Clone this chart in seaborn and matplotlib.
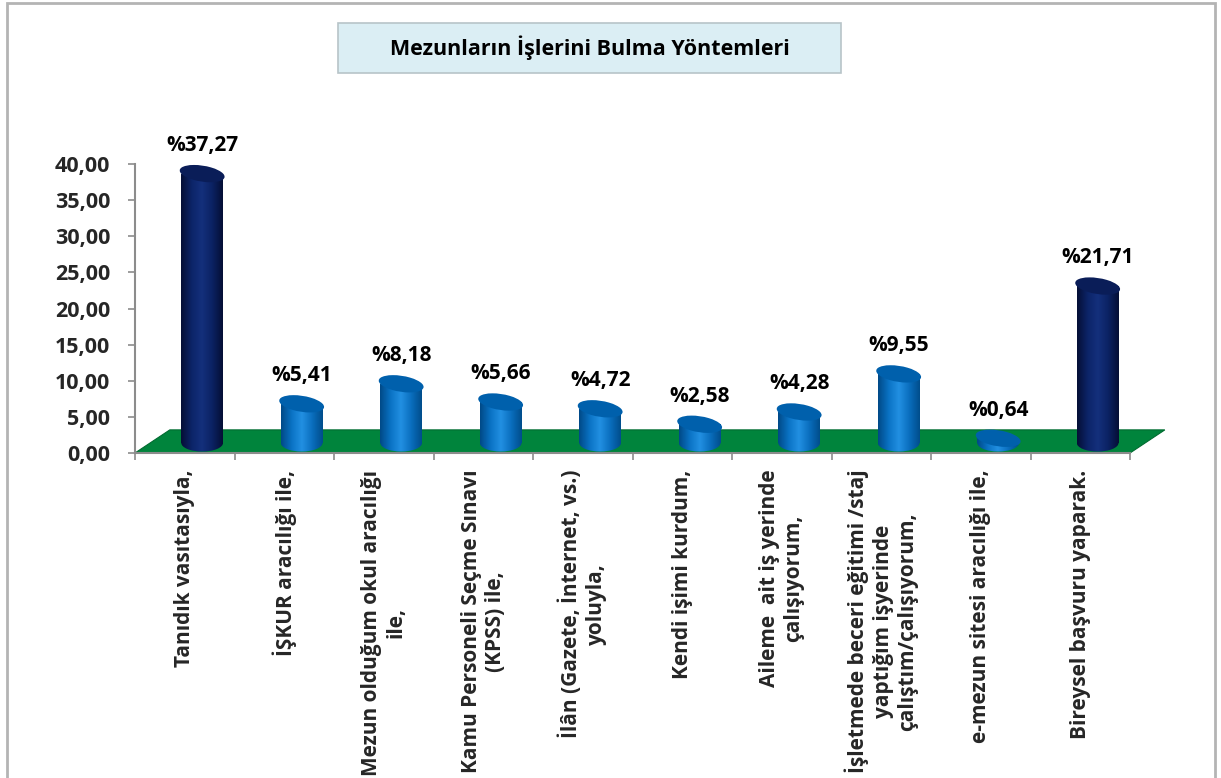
import matplotlib
matplotlib.use("Agg")
import matplotlib.pyplot as plt
import seaborn as sns
import pandas as pd
import numpy as np
from matplotlib.patches import Polygon, Ellipse, Rectangle
from matplotlib.colors import LinearSegmentedColormap

# data
categories = [
    "Tanıdık vasıtasıyla,",
    "İŞKUR aracılığı ile,",
    "Mezun olduğum okul aracılığı\nile,",
    "Kamu Personeli Seçme Sınavı\n(KPSS) ile,",
    "İlân (Gazete, İnternet, vs.)\nyoluyla,",
    "Kendi işimi kurdum,",
    "Aileme  ait iş yerinde\nçalışıyorum,",
    "İşletmede beceri eğitimi /staj\nyaptığım işyerinde\nçalıştım/çalışıyorum,",
    "e-mezun sitesi aracılığı ile,",
    "Bireysel başvuru yaparak.",
]
values = [37.27, 5.41, 8.18, 5.66, 4.72, 2.58, 4.28, 9.55, 0.64, 21.71]
highlight = [True, False, False, False, False, False, False, False, False, True]
y_ticks = [0, 5, 10, 15, 20, 25, 30, 35, 40]
title = "Mezunların İşlerini Bulma Yöntemleri"

NAVY = "#0c2368"
BLUE = "#0a6fc2"
GRID = "#8c8c8c"
FLOOR = "#00843c"

blue_cmap = LinearSegmentedColormap.from_list(
    "blue_cyl", ["#004a88", "#0a72c4", "#2290e2", "#0a6ebe", "#004e8c"])
navy_cmap = LinearSegmentedColormap.from_list(
    "navy_cyl", ["#050f36", "#0c2468", "#14307c", "#0b2263", "#050f36"])

sns.set_theme(style="white")
plt.rcParams["font.family"] = ["Open Sans", "DejaVu Sans"]
plt.rcParams["font.weight"] = "bold"

fig = plt.figure(figsize=(12.21, 7.78), dpi=100)
ax = fig.add_axes([135 / 1221, 1 - 453 / 778, (1130 - 135) / 1221, (453 - 164) / 778])

df = pd.DataFrame({"method": categories, "pct": values})
palette = {c: (NAVY if h else BLUE) for c, h in zip(categories, highlight)}
sns.barplot(data=df, x="method", y="pct", hue="method", palette=palette,
            width=0.42, saturation=1, legend=False, ax=ax, zorder=3)
bars = sorted(ax.patches[:], key=lambda p: p.get_x())

# 3D-ish floor behind the bars
depth_x, depth_y = 0.35, 3.2
floor = Polygon([(-0.5, 0), (9.5, 0), (9.5 + depth_x, depth_y), (-0.5 + depth_x, depth_y)],
                closed=True, facecolor=FLOOR, edgecolor="#006b30", lw=0.8,
                zorder=1, clip_on=False)
ax.add_patch(floor)

base = 1.4
dx = depth_x / 2
ell_h = 2.4
grad = np.linspace(0, 1, 64).reshape(1, -1)

for p, v, h in zip(bars, values, highlight):
    cmap = navy_cmap if h else blue_cmap
    top_col = "#0a1d58" if h else "#0060ac"
    w = p.get_width()
    p.set_x(p.get_x() + dx)
    p.set_y(base)
    p.set_edgecolor("none")
    x0 = p.get_x()
    cx = x0 + w / 2

    bottom = Ellipse((cx, base), w, ell_h, facecolor="none", edgecolor="none", zorder=2.9)
    ax.add_patch(bottom)
    im = ax.imshow(grad, extent=[x0, x0 + w, base - ell_h, base + ell_h],
                   aspect="auto", cmap=cmap, zorder=2.95)
    im.set_clip_path(bottom)
    im2 = ax.imshow(grad, extent=[x0, x0 + w, base, base + v],
                    aspect="auto", cmap=cmap, zorder=3.1)
    im2.set_clip_path(p)

    top = Ellipse((cx, base + v), w, ell_h, angle=4, facecolor=top_col,
                  edgecolor="none", zorder=3.3)
    ax.add_patch(top)

    label = "%" + f"{v:.2f}".replace(".", ",")
    ax.text(cx, base + v + 3.9, label, ha="center", va="center",
            fontsize=15, fontweight="bold", color="black", clip_on=False)

ax.set_xlim(-0.5, 9.5)
ax.set_ylim(0, 40)
ax.set_xlabel("")
ax.set_ylabel("")

ax.set_xticks(range(len(categories)))
ax.set_xticklabels(categories, rotation=90, ha="center", va="top",
                   multialignment="center", fontsize=15, fontweight="bold",
                   linespacing=1.2)
ax.set_xticks(np.arange(-0.5, len(categories), 1), minor=True)
ax.tick_params(axis="x", which="major", length=0, pad=12, bottom=True)
ax.tick_params(axis="x", which="minor", length=5, width=1.2, color=GRID,
               direction="out", bottom=True)

ax.set_yticks(y_ticks)
ax.set_yticklabels([f"{t:.2f}".replace(".", ",") for t in y_ticks],
                   fontsize=15.5, fontweight="bold")
ax.tick_params(axis="y", length=5, width=1.2, color=GRID, direction="out",
               pad=13, left=True)

for s in ["top", "right"]:
    ax.spines[s].set_visible(False)
for s in ["left", "bottom"]:
    ax.spines[s].set_color(GRID)
    ax.spines[s].set_linewidth(1.5)
ax.set_facecolor("none")

# title box
fig.add_artist(Rectangle((338 / 1221, 1 - 73 / 778), (841 - 338) / 1221, 50 / 778,
                         transform=fig.transFigure, facecolor="#dbeef4",
                         edgecolor="#b8c4c8", lw=1.2))
fig.text(590 / 1221, 1 - 48 / 778, title, ha="center", va="center",
         fontsize=15.5, fontweight="bold", color="black")

# chart frame
fig.add_artist(Rectangle((7 / 1221, -0.02), (1215 - 7) / 1221, 1.02 - 3 / 778,
                         transform=fig.transFigure, fill=False,
                         edgecolor="#b4b4b4", lw=2))

fig.savefig("out.png", dpi=100)
